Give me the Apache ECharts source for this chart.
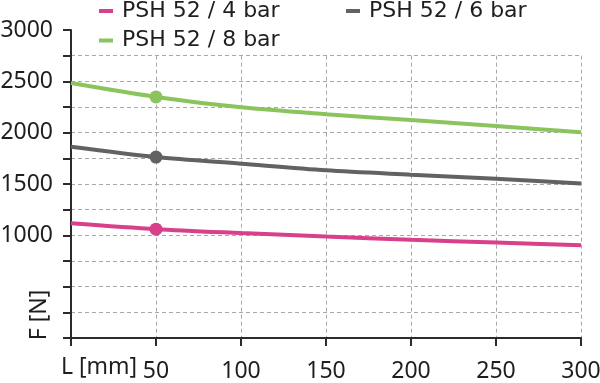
<!DOCTYPE html>
<html>
<head>
<meta charset="utf-8">
<script src="https://cdn.jsdelivr.net/npm/echarts@6/dist/echarts.min.js"></script>
<style>
  html, body { margin: 0; padding: 0; background: #fff; }
  #chart { width: 600px; height: 383px; }
</style>
</head>
<body>
<div id="chart"></div>
<script>
// stroke length L [mm]
const lengths = [0, 50, 100, 150, 200, 250, 300];
// force F [N] per pressure
const force4bar = [1117, 1060, 1022, 988, 957, 930, 903];
const force6bar = [1862, 1762, 1697, 1633, 1590, 1550, 1505];
const force8bar = [2483, 2348, 2247, 2180, 2123, 2065, 2003];
const seriesNames = ["PSH 52 / 4 bar", "PSH 52 / 6 bar", "PSH 52 / 8 bar"];
const yLabels = [1000, 1500, 2000, 2500, 3000];
const markedLength = 50;

const FONT = "Noto Sans";
const LEGEND_FONT = "DejaVu Sans";
const TEXT = "#1e1e1e";
const AXIS = "#2b2b2b";
const GRIDLINE = "#a8a8a8";

function toPoints(values) {
  // a dot is drawn only at the marked length
  return lengths.map((x, i) =>
    x === markedLength
      ? { value: [x, values[i]], symbol: "circle", symbolSize: 13 }
      : { value: [x, values[i]] }
  );
}

function lineSeries(name, values, color) {
  return {
    name: name,
    type: "line",
    xAxisIndex: 0,
    yAxisIndex: 0,
    smooth: 0.3,
    symbol: "none",
    data: toPoints(values),
    itemStyle: { color: color },
    lineStyle: { color: color, width: 4 },
    z: 5,
  };
}

const legendText = { fontFamily: LEGEND_FONT, fontSize: 22, color: TEXT, lineHeight: 20, padding: [0, 0, 0, 4] };

const chart = echarts.init(document.getElementById("chart"));
chart.setOption({
  animation: false,
  textStyle: { fontFamily: FONT, color: TEXT },
  legend: [
    {
      left: 99,
      top: 0,
      padding: 0,
      orient: "vertical",
      data: [seriesNames[0], seriesNames[2]],
      icon: "rect",
      itemWidth: 14,
      itemHeight: 4,
      itemGap: 7.5,
      textStyle: legendText,
    },
    {
      left: 346,
      top: 0,
      padding: 0,
      data: [seriesNames[1]],
      icon: "rect",
      itemWidth: 14,
      itemHeight: 4,
      textStyle: legendText,
    },
  ],
  grid: [
    // axes
    { left: 71, right: 19, top: 30, bottom: 45, outerBoundsMode: "none" },
    // dashed grid, stops at 2750
    { left: 71, right: 19, top: 30 + 308 / 12, bottom: 45, outerBoundsMode: "none" },
  ],
  xAxis: [
    {
      gridIndex: 0,
      type: "value",
      min: 0,
      max: 300,
      interval: 50,
      axisLine: { show: true, lineStyle: { color: AXIS, width: 2 } },
      axisTick: { show: true, length: 8, lineStyle: { color: AXIS, width: 2 } },
      axisLabel: {
        margin: 22,
        fontFamily: FONT,
        fontSize: 23,
        color: TEXT,
        formatter: (v) => (v === 0 ? "" : String(v)),
      },
      splitLine: { show: false },
    },
    {
      gridIndex: 1,
      type: "value",
      min: 0,
      max: 300,
      interval: 50,
      axisLine: { show: false },
      axisTick: { show: false },
      axisLabel: { show: false },
      splitLine: { show: true, lineStyle: { color: GRIDLINE, type: [4, 3], width: 1 } },
    },
  ],
  yAxis: [
    {
      gridIndex: 0,
      type: "value",
      min: 0,
      max: 3000,
      interval: 250,
      axisLine: { show: true, lineStyle: { color: AXIS, width: 2 } },
      axisTick: { show: true, length: 8, lineStyle: { color: AXIS, width: 2 } },
      axisLabel: {
        margin: 18,
        fontFamily: FONT,
        fontSize: 23,
        color: TEXT,
        formatter: (v) => (yLabels.includes(v) ? String(v) : ""),
      },
      splitLine: { show: false },
    },
    {
      gridIndex: 1,
      type: "value",
      min: 0,
      max: 2750,
      interval: 250,
      axisLine: { show: false },
      axisTick: { show: false },
      axisLabel: { show: false },
      splitLine: { show: true, lineStyle: { color: GRIDLINE, type: [4, 3], width: 1 } },
    },
  ],
  graphic: [
    {
      type: "text",
      left: 61,
      top: 356,
      style: { text: "L [mm]", font: "23px 'Noto Sans'", fill: TEXT },
    },
    {
      type: "text",
      x: 39,
      y: 315,
      rotation: Math.PI / 2,
      style: {
        text: "F [N]",
        font: "23px 'Noto Sans'",
        fill: TEXT,
        align: "center",
        verticalAlign: "middle",
      },
    },
  ],
  series: [
    lineSeries(seriesNames[0], force4bar, "#d9408c"),
    lineSeries(seriesNames[1], force6bar, "#626262"),
    lineSeries(seriesNames[2], force8bar, "#8bc45d"),
  ],
});
</script>
</body>
</html>
